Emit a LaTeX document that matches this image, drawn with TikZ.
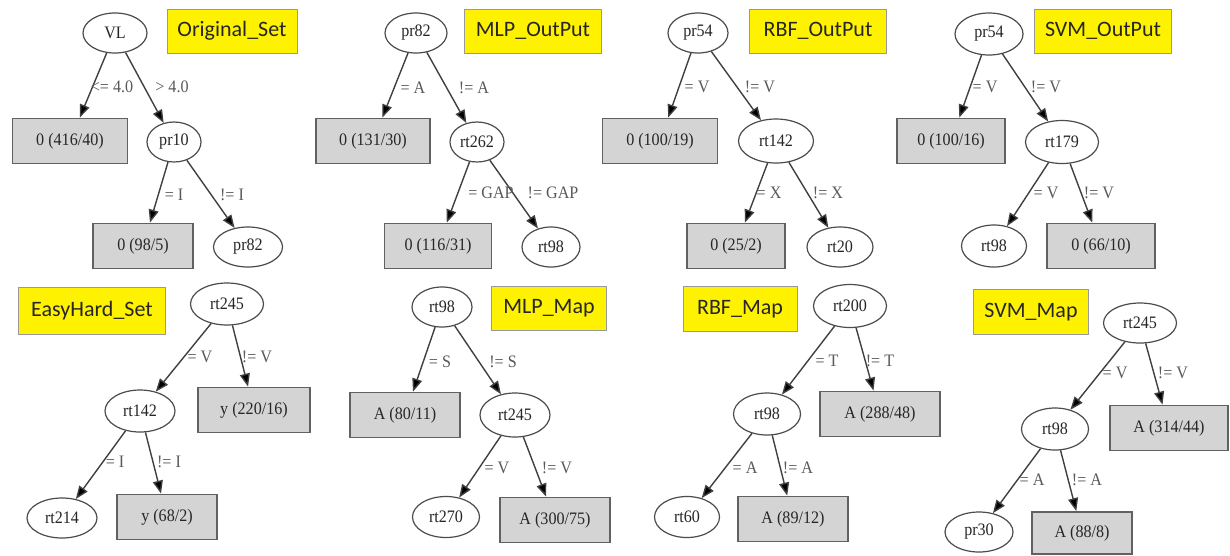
\documentclass[tikz,border=0pt]{standalone}
\usepackage{fontspec}
\setmainfont{Liberation Serif}[FakeStretch=0.92]
\newfontfamily\yfont{Carlito}
\usetikzlibrary{shapes.geometric,arrows.meta}
\tikzset{
  ell/.style={ellipse,draw=black!70,line width=1.2pt,fill=white,inner sep=0pt,minimum height=40pt,font=\fontsize{17.5}{19}\selectfont,text=black!85},
  leaf/.style={rectangle,draw=black!62,line width=1.8pt,fill=black!17,inner sep=0pt,minimum height=45pt,font=\fontsize{17.5}{19}\selectfont,text=black!85},
  tag/.style={rectangle,draw=black!40,line width=1pt,fill=yellow,inner sep=0pt,minimum height=44pt,font=\yfont\fontsize{22}{24}\selectfont,text=black!85},
  arr/.style={draw=black!75,line width=1.4pt,-{Triangle[length=13pt,width=10pt,fill=black]}},
  lbl/.style={font=\fontsize{17.5}{19}\selectfont,text=black!65,inner sep=0pt}
}
\begin{document}
\begin{tikzpicture}[x=1pt,y=-1pt]
\useasboundingbox[fill=white] (0,0) rectangle (1230,555);
% ---------- Panel 1: Original_Set
\node[ell,minimum width=64pt] (a1) at (115,33) {VL};
\node[tag,minimum width=130pt] (ta) at (232,31) {Original\_Set};
\node[leaf,minimum width=115pt] (a2) at (70,141) {0 (416/40)};
\node[ell,minimum width=54pt] (a3) at (174,142) {pr10};
\node[leaf,minimum width=100pt] (a4) at (143,246) {0 (98/5)};
\node[ell,minimum width=69pt] (a5) at (248,247) {pr82};
\draw[arr] (a1) -- (a2);
\draw[arr] (a1) -- (a3);
\draw[arr] (a3) -- (a4);
\draw[arr] (a3) -- (a5);
\node[lbl] (la1) at (112,87) {<= 4.0};
\node[lbl] (la2) at (172,87) {> 4.0};
\node[lbl] (la3) at (174,195) {= I};
\node[lbl] (la4) at (232,195) {!= I};
% ---------- Panel 2: MLP_OutPut
\node[ell,minimum width=62pt] (b1) at (416,33) {pr82};
\node[tag,minimum width=137pt] (tb) at (533,31) {MLP\_OutPut};
\node[leaf,minimum width=114pt] (b2) at (373,141) {0 (131/30)};
\node[ell,minimum width=54pt] (b3) at (477,142) {rt262};
\node[leaf,minimum width=107pt] (b4) at (438,246) {0 (116/31)};
\node[ell,minimum width=58pt] (b5) at (551,247) {rt98};
\draw[arr] (b1) -- (b2);
\draw[arr] (b1) -- (b3);
\draw[arr] (b3) -- (b4);
\draw[arr] (b3) -- (b5);
\node[lbl] (lb1) at (413,88) {= A};
\node[lbl] (lb2) at (474,88) {!= A};
\node[lbl] (lb3) at (491,193) {= GAP};
\node[lbl] (lb4) at (553,193) {!= GAP};
% ---------- Panel 3: RBF_OutPut
\node[ell,minimum width=60pt] (c1) at (698,33) {pr54};
\node[tag,minimum width=137pt] (tc) at (818,31) {RBF\_OutPut};
\node[leaf,minimum width=115pt] (c2) at (660,141) {0 (100/19)};
\node[ell,minimum width=75pt,minimum height=44pt] (c3) at (776,141) {rt142};
\node[leaf,minimum width=98pt] (c4) at (736,246) {0 (25/2)};
\node[ell,minimum width=66pt] (c5) at (840,247) {rt20};
\draw[arr] (c1) -- (c2);
\draw[arr] (c1) -- (c3);
\draw[arr] (c3) -- (c4);
\draw[arr] (c3) -- (c5);
\node[lbl] (lc1) at (697,87) {= V};
\node[lbl] (lc2) at (760,87) {!= V};
\node[lbl] (lc3) at (769,193) {= X};
\node[lbl] (lc4) at (828,193) {!= X};
% ---------- Panel 4: SVM_OutPut
\node[ell,minimum width=68pt,minimum height=42pt] (d1) at (989,34) {pr54};
\node[tag,minimum width=137pt] (td) at (1103,31) {SVM\_OutPut};
\node[leaf,minimum width=108pt] (d2) at (951,141) {0 (100/16)};
\node[ell,minimum width=73pt,minimum height=43pt] (d3) at (1062,142) {rt179};
\node[ell,minimum width=65pt,minimum height=42pt] (d4) at (994,246) {rt98};
\node[leaf,minimum width=108pt] (d5) at (1101,246) {0 (66/10)};
\draw[arr] (d1) -- (d2);
\draw[arr] (d1) -- (d3);
\draw[arr] (d3) -- (d4);
\draw[arr] (d3) -- (d5);
\node[lbl] (ld1) at (985,87) {= V};
\node[lbl] (ld2) at (1046,87) {!= V};
\node[lbl] (ld3) at (1046,193) {= V};
\node[lbl] (ld4) at (1099,193) {!= V};
% ---------- Panel 5: EasyHard_Set
\node[tag,minimum width=147pt,minimum height=47pt] (te) at (92,311) {EasyHard\_Set};
\node[ell,minimum width=73pt,minimum height=42pt] (e1) at (227,304) {rt245};
\node[ell,minimum width=70pt,minimum height=42pt] (e2) at (140,411) {rt142};
\node[leaf,minimum width=112pt] (e3) at (254,410) {y (220/16)};
\node[ell,minimum width=70pt] (e4) at (62,518) {rt214};
\node[leaf,minimum width=100pt] (e5) at (167,517) {y (68/2)};
\draw[arr] (e1) -- (e2);
\draw[arr] (e1) -- (e3);
\draw[arr] (e2) -- (e4);
\draw[arr] (e2) -- (e5);
\node[lbl] (le1) at (200,357) {= V};
\node[lbl] (le2) at (257,357) {!= V};
\node[lbl] (le3) at (115,462) {= I};
\node[lbl] (le4) at (169,462) {!= I};
% ---------- Panel 6: MLP_Map
\node[ell,minimum width=60pt] (f1) at (442,307) {rt98};
\node[tag,minimum width=115pt] (tf) at (549,308) {MLP\_Map};
\node[leaf,minimum width=110pt] (f2) at (405,415) {A (80/11)};
\node[ell,minimum width=70pt,minimum height=44pt] (f3) at (515,415) {rt245};
\node[ell,minimum width=67pt,minimum height=41pt] (f4) at (446,517) {rt270};
\node[leaf,minimum width=110pt] (f5) at (555,520) {A (300/75)};
\draw[arr] (f1) -- (f2);
\draw[arr] (f1) -- (f3);
\draw[arr] (f3) -- (f4);
\draw[arr] (f3) -- (f5);
\node[lbl] (lf1) at (440,362) {= S};
\node[lbl] (lf2) at (503,362) {!= S};
\node[lbl] (lf3) at (497,468) {= V};
\node[lbl] (lf4) at (557,468) {!= V};
% ---------- Panel 7: RBF_Map
\node[tag,minimum width=114pt,minimum height=45pt] (tg) at (740,309) {RBF\_Map};
\node[ell,minimum width=73pt,minimum height=43pt] (g1) at (850,306) {rt200};
\node[ell,minimum width=67pt,minimum height=42pt] (g2) at (767,414) {rt98};
\node[leaf,minimum width=120pt] (g3) at (880,414) {A (288/48)};
\node[ell,minimum width=65pt,minimum height=41pt] (g4) at (687,517) {rt60};
\node[leaf,minimum width=110pt] (g5) at (793,519) {A (89/12)};
\draw[arr] (g1) -- (g2);
\draw[arr] (g1) -- (g3);
\draw[arr] (g2) -- (g4);
\draw[arr] (g2) -- (g5);
\node[lbl] (lg1) at (827,361) {= T};
\node[lbl] (lg2) at (880,361) {!= T};
\node[lbl] (lg3) at (745,468) {= A};
\node[lbl] (lg4) at (798,468) {!= A};
% ---------- Panel 8: SVM_Map
\node[tag,minimum width=115pt,minimum height=45pt] (th) at (1031,312) {SVM\_Map};
\node[ell,minimum width=73pt] (h1) at (1140,323) {rt245};
\node[ell,minimum width=67pt,minimum height=42pt] (h2) at (1055,429) {rt98};
\node[leaf,minimum width=118pt] (h3) at (1169,428) {A (314/44)};
\node[ell,minimum width=68pt] (h4) at (979,532) {pr30};
\node[leaf,minimum width=100pt,minimum height=42pt] (h5) at (1082,533) {A (88/8)};
\draw[arr] (h1) -- (h2);
\draw[arr] (h1) -- (h3);
\draw[arr] (h2) -- (h4);
\draw[arr] (h2) -- (h5);
\node[lbl] (lh1) at (1115,373) {= V};
\node[lbl] (lh2) at (1173,373) {!= V};
\node[lbl] (lh3) at (1032,480) {= A};
\node[lbl] (lh4) at (1087,480) {!= A};
\end{tikzpicture}
\end{document}
